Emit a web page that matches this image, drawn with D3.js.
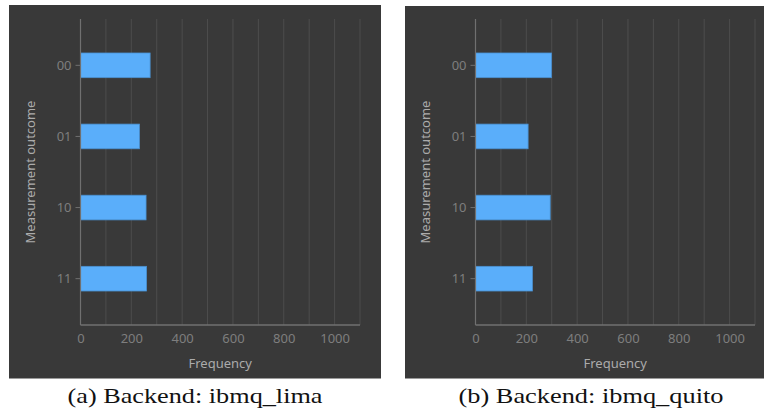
<!DOCTYPE html>
<meta charset="utf-8">
<head>
  <script src="https://d3js.org/d3.v7.min.js"></script>
  <style>
    body { margin: 0; background: #fff; }
    svg { display: block; }
  </style>
</head>
<body>
<div id="container"></div>
<script>
var outcomes = ["00", "01", "10", "11"];
var limaCounts = [274, 232, 258, 260];
var quitoCounts = [299, 207, 294, 224];
var captions = ["(a) Backend: ibmq_lima", "(b) Backend: ibmq_quito"];
var xTicks = [0, 200, 400, 600, 800, 1000];
var gridTicks = d3.range(100, 1101, 100);

var width = 764, height = 417;
var svg = d3.select("#container").append("svg")
  .attr("width", width).attr("height", height);

var panels = [
  { bgX: 9, bgY: 5, bgW: 372, left: 80.5, right: 360, counts: limaCounts, caption: captions[0], capX: 195, capW: 255 },
  { bgX: 405, bgY: 6, bgW: 359, left: 475.5, right: 755, counts: quitoCounts, caption: captions[1], capX: 591, capW: 265 }
];
var plotTop = 19, plotBottom = 325;

panels.forEach(function(p) {
  var g = svg.append("g");

  g.append("rect")
    .attr("x", p.bgX).attr("y", p.bgY)
    .attr("width", p.bgW).attr("height", 378.5 - p.bgY)
    .attr("fill", "#393939");

  var x = d3.scaleLinear().domain([0, 1100]).range([p.left, p.right]);
  var y = d3.scaleBand().domain(outcomes).range([plotTop, plotBottom])
    .paddingInner(0.653).paddingOuter(0.478);

  // vertical grid
  g.selectAll(".grid").data(gridTicks).enter().append("line")
    .attr("x1", d => x(d)).attr("x2", d => x(d))
    .attr("y1", plotTop).attr("y2", plotBottom)
    .attr("stroke", "#4d4d4d").attr("stroke-width", 1);

  // bars
  g.selectAll(".bar").data(outcomes).enter().append("rect")
    .attr("x", x(0))
    .attr("y", d => y(d))
    .attr("width", (d, i) => x(p.counts[i]) - x(0))
    .attr("height", y.bandwidth())
    .attr("fill", "#5aaefa")
    .attr("stroke", "#4a90d0").attr("stroke-width", 0.8);

  // x axis
  var xAxis = g.append("g")
    .attr("transform", "translate(0," + plotBottom + ")")
    .call(d3.axisBottom(x).tickValues(xTicks).tickFormat(d3.format("d")).tickSize(0).tickPadding(9));
  xAxis.select(".domain").attr("stroke", "#707070").attr("stroke-width", 1.5)
    .attr("d", "M" + x(0) + ",0H" + x(1100));
  xAxis.selectAll("text").attr("fill", "#7e7e7e")
    .style("font-family", "Noto Sans").style("font-size", "13px");

  // y axis
  var yAxis = g.append("g")
    .attr("transform", "translate(" + x(0) + ",0)")
    .call(d3.axisLeft(y).tickSize(5).tickPadding(4));
  yAxis.select(".domain").attr("stroke", "#707070").attr("stroke-width", 1.2)
    .attr("d", "M0," + plotTop + "V" + plotBottom);
  yAxis.selectAll(".tick line").attr("stroke", "#707070");
  yAxis.selectAll("text").attr("fill", "#7e7e7e")
    .style("font-family", "Noto Sans").style("font-size", "13px");

  // axis titles
  g.append("text")
    .attr("x", (p.left + p.right) / 2).attr("y", 368)
    .attr("text-anchor", "middle")
    .attr("fill", "#ababab")
    .style("font-family", "Noto Sans").style("font-size", "13px")
    .text("Frequency");

  g.append("text")
    .attr("transform", "translate(" + (p.left - 46) + "," + ((plotTop + plotBottom) / 2) + ") rotate(-90)")
    .attr("text-anchor", "middle")
    .attr("fill", "#ababab")
    .style("font-family", "Noto Sans").style("font-size", "13px")
    .text("Measurement outcome");

  // caption under each panel
  g.append("text")
    .attr("x", p.capX).attr("y", 403)
    .attr("text-anchor", "middle")
    .attr("fill", "#111")
    .attr("textLength", p.capW).attr("lengthAdjust", "spacingAndGlyphs")
    .style("font-family", "Liberation Serif").style("font-size", "21px")
    .text(p.caption);
});
</script>
</body>
